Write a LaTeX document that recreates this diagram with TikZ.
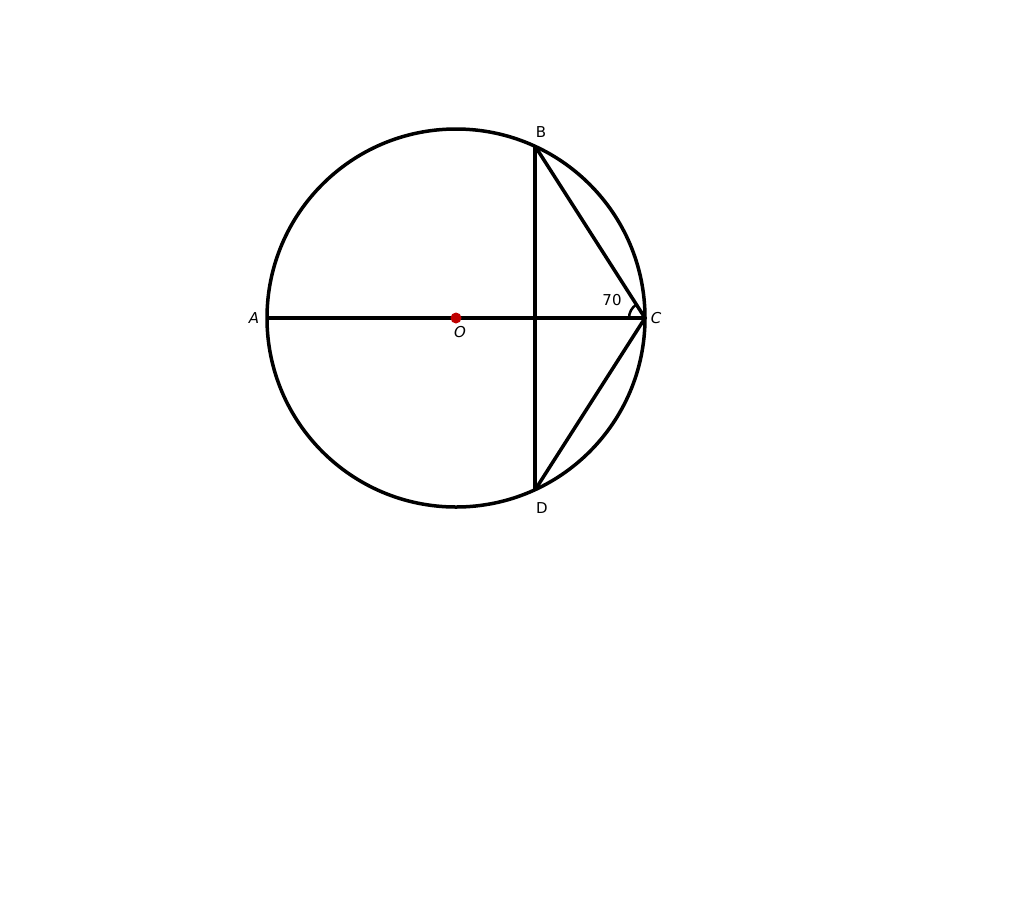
\documentclass[tikz,border=0pt]{standalone}
\usepackage{fontspec}
\setmainfont{DejaVu Sans}
\usetikzlibrary{calc}
\begin{document}
\begin{tikzpicture}[x=1pt,y=-1pt,
  geo/.style={line width=3.5pt,black},
  lbl/.style={font=\fontsize{15}{17}\selectfont,inner sep=0pt}]
\useasboundingbox (0,0) rectangle (1024,906);
\coordinate (O) at (456,318);
\coordinate (A) at (267,318);
\coordinate (C) at (645,318);
\coordinate (B) at (535,146);
\coordinate (D) at (535,490);
\draw[geo] (O) circle (189);
\draw[geo] (A) -- (C);
\draw[geo] (B) -- (D);
\draw[geo,line join=miter] (B) -- (C) -- (D);
\draw[line width=2.5pt] ($(C)+(-16,0)$) arc[start angle=180,end angle=237.4,radius=16];
\fill[red!75!black] (O) circle (5.5);
\node[lbl] (lA) at (254,318) {\itshape A};
\node[lbl] (lO) at (460,332) {\itshape O};
\node[lbl] (lB) at (541,132) {B};
\node[lbl] (lC) at (656,318) {\itshape C};
\node[lbl] (lD) at (542,508) {D};
\node[lbl] (l70) at (612,300) {70};
\end{tikzpicture}
\end{document}
